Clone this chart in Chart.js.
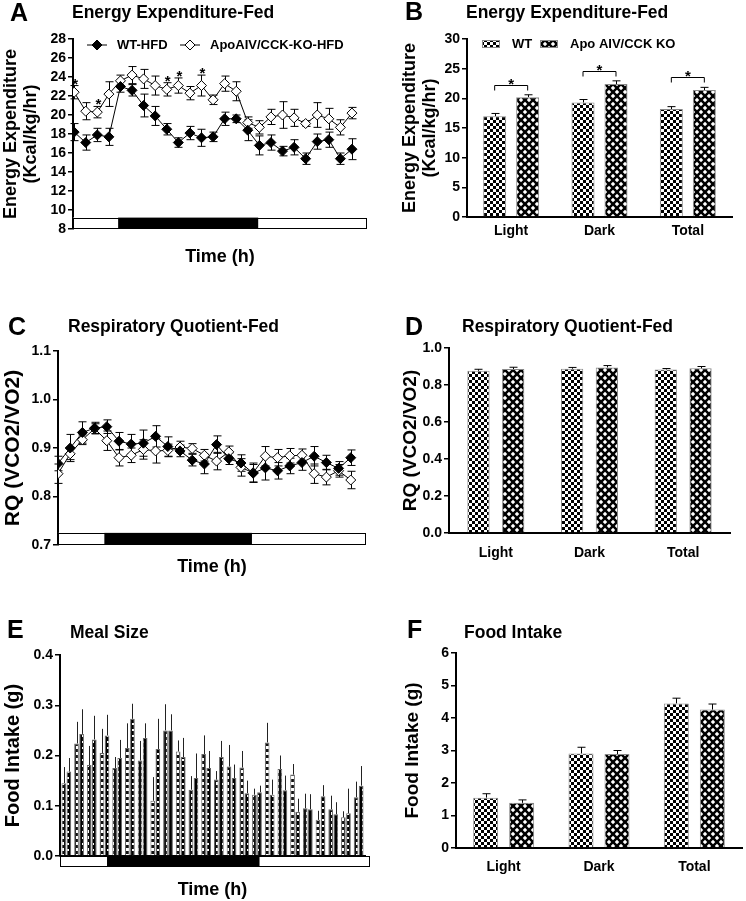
<!DOCTYPE html>
<html>
<head>
<meta charset="utf-8">
<script src="https://cdn.jsdelivr.net/npm/chart.js@4.4.0/dist/chart.umd.min.js"></script>
<style>
  html, body { margin: 0; padding: 0; background: #fff; }
  #page { position: relative; width: 746px; height: 901px; overflow: hidden; }
  canvas { position: absolute; }
</style>
</head>
<body>
<div id="page">
  <canvas id="chartA" width="373" height="280" style="left:0;top:0"></canvas>
  <canvas id="chartB" width="373" height="280" style="left:373px;top:0"></canvas>
  <canvas id="chartC" width="373" height="290" style="left:0;top:290px"></canvas>
  <canvas id="chartD" width="373" height="290" style="left:373px;top:290px"></canvas>
  <canvas id="chartE" width="373" height="311" style="left:0;top:590px"></canvas>
  <canvas id="chartF" width="373" height="311" style="left:373px;top:590px"></canvas>
</div>
<script>
// ---- data ----
const hours = [0, 1, 2, 3, 4, 5, 6, 7, 8, 9, 10, 11, 12, 13, 14, 15, 16, 17, 18, 19, 20, 21, 22, 23, 24];
const darkPhase = [3.8, 15.9];

// A: energy expenditure time course (Kcal/kg/hr)
const eeWT = [18.2, 17.1, 17.9, 17.7, 23.0, 22.6, 21.0, 19.9, 18.5, 17.1, 18.1, 17.6, 17.7, 19.6, 19.6, 18.4, 16.8, 17.1, 16.2, 16.6, 15.4, 17.2, 17.4, 15.4, 16.4];
const eeWTErr = [0.9, 0.8, 0.7, 0.9, 0.6, 0.6, 1.2, 1.0, 0.6, 0.5, 0.7, 0.9, 0.5, 0.7, 0.4, 1.1, 1.0, 0.8, 0.5, 0.8, 0.6, 0.8, 0.8, 0.6, 1.1];
const eeKO = [22.4, 20.4, 20.3, 22.2, 23.6, 24.2, 23.8, 23.1, 22.7, 23.1, 22.3, 23.1, 21.6, 23.3, 22.5, 19.2, 18.7, 19.8, 20.0, 19.7, 19.1, 20.0, 19.6, 18.7, 20.2];
const eeKOErr = [0.7, 0.9, 0.6, 1.3, 0.6, 0.9, 1.0, 1.0, 0.7, 0.8, 0.7, 1.1, 0.5, 0.8, 1.0, 0.6, 0.7, 0.8, 1.4, 0.9, 0.3, 1.3, 1.1, 0.8, 0.6];
const eeSignif = [0, 2, 8, 9, 11];

// B, D, F: phase summaries
const phases = ['Light', 'Dark', 'Total'];
const eeBarWT = [17.0, 19.3, 18.2];
const eeBarWTErr = [0.45, 0.5, 0.4];
const eeBarKO = [20.2, 22.4, 21.4];
const eeBarKOErr = [0.4, 0.55, 0.45];

// C: respiratory quotient time course
const rqWT = [0.868, 0.900, 0.932, 0.941, 0.944, 0.914, 0.908, 0.910, 0.924, 0.903, 0.894, 0.875, 0.867, 0.907, 0.878, 0.869, 0.848, 0.859, 0.853, 0.863, 0.870, 0.883, 0.870, 0.858, 0.880];
const rqWTErr = [0.015, 0.028, 0.022, 0.012, 0.014, 0.018, 0.020, 0.027, 0.022, 0.020, 0.012, 0.012, 0.020, 0.018, 0.012, 0.017, 0.018, 0.025, 0.017, 0.016, 0.016, 0.020, 0.015, 0.014, 0.016];
const rqKO = [0.847, 0.888, 0.917, 0.940, 0.915, 0.880, 0.885, 0.897, 0.894, 0.895, 0.902, 0.899, 0.885, 0.873, 0.892, 0.860, 0.849, 0.883, 0.880, 0.884, 0.885, 0.847, 0.840, 0.853, 0.834];
const rqKOErr = [0.020, 0.012, 0.010, 0.010, 0.020, 0.017, 0.015, 0.020, 0.025, 0.013, 0.012, 0.010, 0.012, 0.018, 0.012, 0.018, 0.020, 0.020, 0.017, 0.015, 0.013, 0.020, 0.016, 0.013, 0.018];

const rqBarWT = [0.877, 0.888, 0.884];
const rqBarWTErr = [0.008, 0.007, 0.005];
const rqBarKO = [0.886, 0.895, 0.890];
const rqBarKOErr = [0.010, 0.010, 0.010];

// E: meal size per hour (g)
const mealHours = ['0', '1', '2', '3', '4', '5', '6', '7', '8', '9', '10', '11', '12', '13', '14', '15', '16', '17', '18', '19', '20', '21', '22', '23'];
const mealDark = [3.2, 15.2];
const mealWT = [0.145, 0.224, 0.181, 0.205, 0.175, 0.215, 0.190, 0.110, 0.250, 0.208, 0.132, 0.203, 0.152, 0.178, 0.176, 0.122, 0.226, 0.173, 0.162, 0.095, 0.072, 0.093, 0.077, 0.117];
const mealWTErr = [0.032, 0.043, 0.038, 0.048, 0.022, 0.049, 0.039, 0.047, 0.052, 0.022, 0.027, 0.037, 0.017, 0.043, 0.033, 0.012, 0.039, 0.027, 0.021, 0.029, 0.018, 0.027, 0.012, 0.031];
const mealKO = [0.168, 0.243, 0.232, 0.240, 0.195, 0.273, 0.235, 0.213, 0.250, 0.197, 0.155, 0.175, 0.197, 0.155, 0.125, 0.127, 0.122, 0.131, 0.088, 0.093, 0.119, 0.083, 0.085, 0.140];
const mealKOErr = [0.027, 0.049, 0.047, 0.041, 0.036, 0.030, 0.029, 0.060, 0.032, 0.038, 0.049, 0.034, 0.032, 0.027, 0.025, 0.013, 0.030, 0.029, 0.026, 0.030, 0.022, 0.024, 0.049, 0.039];

const foodWT = [1.55, 2.91, 4.45];
const foodWTErr = [0.12, 0.19, 0.16];
const foodKO = [1.39, 2.89, 4.26];
const foodKOErr = [0.09, 0.11, 0.17];

// ---- look ----
const FONT = '"Liberation Sans", Arial, Helvetica, sans-serif';
Chart.defaults.font.family = FONT;
Chart.defaults.font.weight = 'bold';
Chart.defaults.color = '#000';
Chart.defaults.animation = false;
Chart.defaults.responsive = false;
Chart.defaults.events = [];
Chart.defaults.plugins.legend.display = false;
Chart.defaults.plugins.tooltip.enabled = false;

function checkerPattern() {
  const c = document.createElement('canvas');
  c.width = 6; c.height = 6;
  const g = c.getContext('2d');
  g.fillStyle = '#fff'; g.fillRect(0, 0, 6, 6);
  g.fillStyle = '#000'; g.fillRect(0, 0, 3, 3); g.fillRect(3, 3, 3, 3);
  return g.createPattern(c, 'repeat');
}
function diamondPattern() {
  const c = document.createElement('canvas');
  c.width = 8; c.height = 8;
  const g = c.getContext('2d');
  g.fillStyle = '#000'; g.fillRect(0, 0, 8, 8);
  g.fillStyle = '#fff';
  const dia = (cx, cy) => {
    g.beginPath();
    g.moveTo(cx, cy - 2.2); g.lineTo(cx + 2.2, cy); g.lineTo(cx, cy + 2.2); g.lineTo(cx - 2.2, cy);
    g.closePath(); g.fill();
  };
  dia(4, 4); dia(0, 0); dia(8, 0); dia(0, 8); dia(8, 8);
  return g.createPattern(c, 'repeat');
}
// narrow hourly bars: one column of squares
function columnPattern(dark) {
  const c = document.createElement('canvas');
  c.width = 5; c.height = 6;
  const g = c.getContext('2d');
  g.fillStyle = dark ? '#000' : '#111'; g.fillRect(0, 0, 5, 6);
  g.fillStyle = '#fff';
  if (dark) g.fillRect(2, 1, 2, 2); else g.fillRect(1, 0, 3, 3);
  return g.createPattern(c, 'repeat');
}
const WT_FILL = checkerPattern();
const KO_FILL = diamondPattern();
const WT_NARROW = columnPattern(false);
const KO_NARROW = columnPattern(true);

function diamond(ctx, x, y, r, fill) {
  ctx.beginPath();
  ctx.moveTo(x, y - r); ctx.lineTo(x + r, y); ctx.lineTo(x, y + r); ctx.lineTo(x - r, y);
  ctx.closePath();
  ctx.fillStyle = fill; ctx.fill();
  ctx.strokeStyle = '#000'; ctx.lineWidth = 1; ctx.stroke();
}

function drawErrors(chart, cfg) {
  const ctx = chart.ctx, y = chart.scales.y;
  ctx.save();
  ctx.strokeStyle = cfg.errColor || '#000';
  ctx.lineWidth = 1;
  cfg.values.forEach((vals, di) => {
    const meta = chart.getDatasetMeta(di);
    meta.data.forEach((el, i) => {
      const v = vals[i], e = cfg.errors[di][i];
      const top = y.getPixelForValue(v + e);
      const bot = cfg.bothSides ? y.getPixelForValue(v - e) : y.getPixelForValue(v);
      const cx = Math.round(el.x) + 0.5;
      ctx.beginPath();
      ctx.moveTo(cx, top); ctx.lineTo(cx, bot);
      if (cfg.cap) {
        ctx.moveTo(cx - cfg.cap, top); ctx.lineTo(cx + cfg.cap, top);
        if (cfg.bothSides) { ctx.moveTo(cx - cfg.cap, bot); ctx.lineTo(cx + cfg.cap, bot); }
      }
      ctx.stroke();
    });
  });
  ctx.restore();
}

// per-panel decorations: letter, heading, light/dark bar, error bars, legends, significance
function deco(cfg) {
  return {
    id: 'deco',
    beforeDatasetsDraw(chart) {
      if (cfg.errors && cfg.errUnder) drawErrors(chart, cfg);
    },
    afterDatasetsDraw(chart) {
      if (cfg.errors && !cfg.errUnder) drawErrors(chart, cfg);
    },
    afterDraw(chart) {
      const ctx = chart.ctx, x = chart.scales.x, y = chart.scales.y;
      const area = chart.chartArea;
      ctx.save();
      // panel letter + heading
      ctx.fillStyle = '#000';
      ctx.textBaseline = 'alphabetic';
      ctx.textAlign = 'left';
      ctx.font = 'bold 25px ' + FONT;
      ctx.fillText(cfg.letter, cfg.letterX, cfg.letterY);
      ctx.font = 'bold 17.5px ' + FONT;
      ctx.textBaseline = 'middle';
      ctx.fillText(cfg.heading, cfg.headX, cfg.headY);

      // light/dark bar
      if (cfg.band) {
        let top, bot;
        if (cfg.band.below) { top = area.bottom; bot = area.bottom + cfg.band.below; }
        else { top = y.getPixelForValue(cfg.band.top); bot = area.bottom; }
        const right = area.right + (cfg.band.extra || 0);
        ctx.fillStyle = '#fff';
        ctx.fillRect(area.left, top, right - area.left, bot - top);
        const x1 = x.getPixelForValue(cfg.band.dark[0]);
        const x2 = x.getPixelForValue(cfg.band.dark[1]);
        ctx.fillStyle = '#000';
        ctx.fillRect(x1, top, x2 - x1, bot - top);
        ctx.strokeStyle = '#000'; ctx.lineWidth = 1;
        ctx.strokeRect(area.left + 0.5, Math.round(top) + 0.5, right - area.left - 1, Math.round(bot - top) - 1);
      }

      // line legend
      if (cfg.lineLegend) {
        ctx.font = 'bold 13px ' + FONT;
        ctx.textBaseline = 'middle';
        cfg.lineLegend.forEach(it => {
          ctx.strokeStyle = '#000'; ctx.lineWidth = 1;
          ctx.beginPath(); ctx.moveTo(it.x - 10, it.y); ctx.lineTo(it.x + 10, it.y); ctx.stroke();
          diamond(ctx, it.x, it.y, 5, it.fill);
          ctx.fillStyle = '#000';
          ctx.fillText(it.text, it.x + 20, it.y);
        });
      }
      // bar legend
      if (cfg.barLegend) {
        ctx.font = 'bold 13px ' + FONT;
        ctx.textBaseline = 'middle';
        cfg.barLegend.forEach(it => {
          ctx.fillStyle = it.fill;
          ctx.fillRect(it.x, it.y - 4, 18, 8);
          ctx.strokeStyle = '#888'; ctx.lineWidth = 1;
          ctx.strokeRect(it.x + 0.5, it.y - 3.5, 17, 7);
          ctx.fillStyle = '#000';
          ctx.fillText(it.text, it.x + 30, it.y);
        });
      }

      // stars above points
      if (cfg.stars) {
        const meta = chart.getDatasetMeta(cfg.stars.ds);
        ctx.font = 'bold 15px ' + FONT;
        ctx.textAlign = 'center';
        ctx.textBaseline = 'alphabetic';
        ctx.fillStyle = '#000';
        cfg.stars.idx.forEach(i => {
          const v = cfg.values[cfg.stars.ds][i] + cfg.errors[cfg.stars.ds][i];
          ctx.fillText('*', meta.data[i].x + 1, y.getPixelForValue(v) + 3);
        });
      }
      // brackets between bar pairs
      if (cfg.brackets) {
        const m0 = chart.getDatasetMeta(0), m1 = chart.getDatasetMeta(1);
        ctx.strokeStyle = '#000'; ctx.lineWidth = 1;
        ctx.font = 'bold 15px ' + FONT;
        ctx.textAlign = 'center';
        ctx.textBaseline = 'alphabetic';
        cfg.brackets.forEach(i => {
          const hi = Math.max(cfg.values[0][i] + cfg.errors[0][i], cfg.values[1][i] + cfg.errors[1][i]);
          const by = Math.round(y.getPixelForValue(hi) - 10) + 0.5;
          const xa = m0.data[i].x, xb = m1.data[i].x;
          ctx.beginPath();
          ctx.moveTo(xa, by + 5); ctx.lineTo(xa, by); ctx.lineTo(xb, by); ctx.lineTo(xb, by + 5);
          ctx.stroke();
          ctx.fillText('*', (xa + xb) / 2, by + 3);
        });
      }
      ctx.restore();
    }
  };
}

function yAxis(o) {
  return {
    min: o.min, max: o.max,
    ticks: { stepSize: o.step, autoSkip: false, font: { size: 14, weight: 'bold' }, padding: 2, callback: v => v.toFixed(o.digits) },
    grid: { drawOnChartArea: false, tickLength: 5, color: '#000', lineWidth: 1.5 },
    border: { color: '#000', width: 2 },
    title: { display: true, text: o.title, font: { size: o.titleSize, weight: 'bold', lineHeight: o.lh || 1.2 }, padding: { top: o.titlePad, bottom: 0 } },
    afterFit: s => { s.width = o.width; }
  };
}

function timeX(o) {
  return {
    type: 'linear', min: o.min, max: o.max,
    ticks: { display: false }, grid: { display: false }, border: { display: false },
    title: { display: true, text: 'Time (h)', font: { size: 18, weight: 'bold' }, padding: { top: 0, bottom: o.pad } },
    afterFit: s => { s.height = o.height; }
  };
}

function phaseX(o) {
  return {
    type: 'category',
    ticks: { font: { size: 14, weight: 'bold' }, padding: o.pad },
    grid: { display: false, drawTicks: false },
    border: { color: '#000', width: 2 },
    afterFit: s => { s.height = o.height; }
  };
}

function points(ys) { return ys.map((v, i) => ({ x: hours[i], y: v })); }

function lineSet(label, ys, fill) {
  return {
    label, data: points(ys),
    borderColor: '#000', borderWidth: 1, tension: 0,
    pointStyle: 'rectRot', pointRadius: 5,
    pointBackgroundColor: fill, pointBorderColor: '#000', pointBorderWidth: 1
  };
}

function barSet(label, vals, fill, bp, cp, edge) {
  return {
    label, data: vals, backgroundColor: fill, borderColor: edge || '#888', borderWidth: 1,
    barPercentage: bp, categoryPercentage: cp
  };
}

// ---- A ----
new Chart(document.getElementById('chartA'), {
  type: 'line',
  data: { datasets: [lineSet('WT-HFD', eeWT, '#000'), lineSet('ApoAIV/CCK-KO-HFD', eeKO, '#fff')] },
  options: {
    layout: { padding: { left: 0, top: 39, right: 6, bottom: 0 } },
    scales: {
      x: timeX({ min: -0.1, max: 25.3, height: 51, pad: 12 }),
      y: yAxis({ min: 8, max: 28, step: 2, digits: 0, title: ['Energy Expenditure', '(Kcal/kg/hr)'], titleSize: 18, lh: 1.1, titlePad: 1, width: 73 })
    }
  },
  plugins: [deco({
    letter: 'A', letterX: 10, letterY: 21, heading: 'Energy Expenditure-Fed', headX: 72, headY: 13,
    values: [eeWT, eeKO], errors: [eeWTErr, eeKOErr], bothSides: true, cap: 4, errUnder: true,
    band: { top: 9.2, dark: darkPhase },
    lineLegend: [{ x: 97, y: 45, fill: '#000', text: 'WT-HFD' }, { x: 190, y: 45, fill: '#fff', text: 'ApoAIV/CCK-KO-HFD' }],
    stars: { ds: 1, idx: eeSignif }
  })]
});

// ---- B ----
new Chart(document.getElementById('chartB'), {
  type: 'bar',
  data: { labels: phases, datasets: [barSet('WT', eeBarWT, WT_FILL, 0.697, 0.747), barSet('Apo AIV/CCK KO', eeBarKO, KO_FILL, 0.697, 0.747)] },
  options: {
    layout: { padding: { left: 0, top: 39, right: 14, bottom: 0 } },
    scales: {
      x: phaseX({ height: 63, pad: 6 }),
      y: yAxis({ min: 0, max: 30, step: 5, digits: 0, title: ['Energy Expenditure', '(Kcal/kg/hr)'], titleSize: 18, lh: 1.1, titlePad: 27, width: 94 })
    }
  },
  plugins: [deco({
    letter: 'B', letterX: 32, letterY: 20, heading: 'Energy Expenditure-Fed', headX: 93, headY: 13,
    values: [eeBarWT, eeBarKO], errors: [eeBarWTErr, eeBarKOErr], cap: 4,
    barLegend: [{ x: 109, y: 44, fill: WT_FILL, text: 'WT' }, { x: 167, y: 44, fill: KO_FILL, text: 'Apo AIV/CCK KO' }],
    brackets: [0, 1, 2]
  })]
});

// ---- C ----
new Chart(document.getElementById('chartC'), {
  type: 'line',
  data: { datasets: [lineSet('WT-HFD', rqWT, '#000'), lineSet('ApoAIV/CCK-KO-HFD', rqKO, '#fff')] },
  options: {
    layout: { padding: { left: 0, top: 61, right: 7, bottom: 0 } },
    scales: {
      x: timeX({ min: 0, max: 25.25, height: 35, pad: 2 }),
      y: yAxis({ min: 0.7, max: 1.1, step: 0.1, digits: 1, title: 'RQ (VCO2/VO2)', titleSize: 21, titlePad: 1, width: 58 })
    }
  },
  plugins: [deco({
    letter: 'C', letterX: 8, letterY: 45, heading: 'Respiratory Quotient-Fed', headX: 68, headY: 37,
    values: [rqWT, rqKO], errors: [rqWTErr, rqKOErr], bothSides: true, cap: 4, errUnder: true,
    band: { top: 0.725, dark: darkPhase }
  })]
});

// ---- D ----
new Chart(document.getElementById('chartD'), {
  type: 'bar',
  data: { labels: phases, datasets: [barSet('WT', rqBarWT, WT_FILL, 0.64, 0.742), barSet('Apo AIV/CCK KO', rqBarKO, KO_FILL, 0.64, 0.742)] },
  options: {
    layout: { padding: { left: 0, top: 58, right: 16, bottom: 0 } },
    scales: {
      x: phaseX({ height: 47, pad: 12 }),
      y: yAxis({ min: 0, max: 1.0, step: 0.2, digits: 1, title: 'RQ (VCO2/VO2)', titleSize: 19, titlePad: 26, width: 76 })
    }
  },
  plugins: [deco({
    letter: 'D', letterX: 32, letterY: 45, heading: 'Respiratory Quotient-Fed', headX: 89, headY: 37,
    values: [rqBarWT, rqBarKO], errors: [rqBarWTErr, rqBarKOErr], cap: 4
  })]
});

// ---- E ----
new Chart(document.getElementById('chartE'), {
  type: 'bar',
  data: { labels: mealHours, datasets: [barSet('WT', mealWT, WT_NARROW, 0.92, 0.8, '#666'), barSet('Apo AIV/CCK KO', mealKO, KO_NARROW, 0.92, 0.8, '#666')] },
  options: {
    layout: { padding: { left: 0, top: 65, right: 8, bottom: 0 } },
    scales: {
      x: {
        type: 'category', ticks: { display: false }, grid: { display: false },
        border: { color: '#000', width: 1.5 },
        title: { display: true, text: 'Time (h)', font: { size: 18, weight: 'bold' }, padding: { top: 0, bottom: 0 } },
        afterFit: s => { s.height = 45; }
      },
      y: yAxis({ min: 0, max: 0.4, step: 0.1, digits: 1, title: 'Food Intake (g)', titleSize: 20, titlePad: 1, width: 60 })
    }
  },
  plugins: [deco({
    letter: 'E', letterX: 7, letterY: 48, heading: 'Meal Size', headX: 70, headY: 43,
    values: [mealWT, mealKO], errors: [mealWTErr, mealKOErr], cap: 0, errColor: '#222',
    band: { below: 11, dark: mealDark, extra: 5 }
  })]
});

// ---- F ----
new Chart(document.getElementById('chartF'), {
  type: 'bar',
  data: { labels: phases, datasets: [barSet('WT', foodWT, WT_FILL, 0.694, 0.755), barSet('Apo AIV/CCK KO', foodKO, KO_FILL, 0.694, 0.755)] },
  options: {
    layout: { padding: { left: 0, top: 63, right: 4, bottom: 0 } },
    scales: {
      x: phaseX({ height: 53, pad: 11 }),
      y: yAxis({ min: 0, max: 6, step: 1, digits: 0, title: 'Food Intake (g)', titleSize: 19, titlePad: 28, width: 83 })
    }
  },
  plugins: [deco({
    letter: 'F', letterX: 34, letterY: 48, heading: 'Food Intake', headX: 91, headY: 43,
    values: [foodWT, foodKO], errors: [foodWTErr, foodKOErr], cap: 4
  })]
});
</script>
</body>
</html>
